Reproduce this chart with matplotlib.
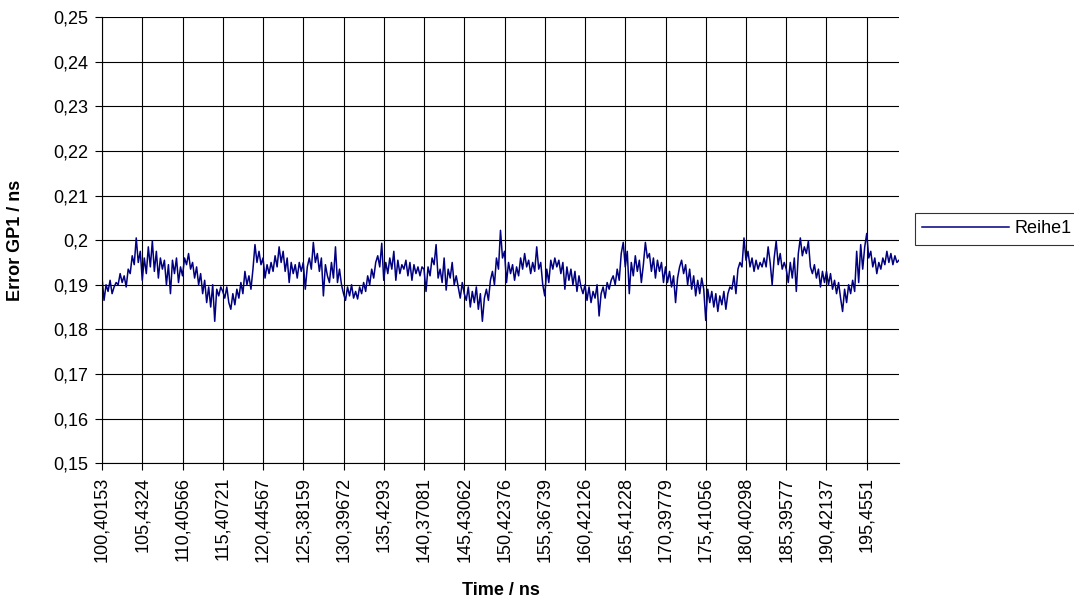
import numpy as np
import matplotlib
matplotlib.use("Agg")
import matplotlib.pyplot as plt

# Werte (Error GP1 in ns), 20 Punkte pro Beschriftung
error_gp1 = [
    0.1915, 0.1865, 0.1900, 0.1885, 0.1910, 0.1880, 0.1895, 0.1905, 0.1900, 0.1925,
    0.1905, 0.1920, 0.1895, 0.1935, 0.1925, 0.1965, 0.1945, 0.2005, 0.1950, 0.1975,
    0.1910, 0.1960, 0.1925, 0.1985, 0.1940, 0.1998, 0.1930, 0.1975, 0.1915, 0.1960,
    0.1935, 0.1955, 0.1900, 0.1945, 0.1880, 0.1955, 0.1925, 0.1960, 0.1905, 0.1940,
    0.1920, 0.1960, 0.1945, 0.1970, 0.1935, 0.1950, 0.1915, 0.1940, 0.1900, 0.1925,
    0.1880, 0.1910, 0.1860, 0.1895, 0.1850, 0.1900, 0.1818, 0.1890, 0.1875, 0.1895,
    0.1885, 0.1870, 0.1895, 0.1860, 0.1845, 0.1880, 0.1855, 0.1890, 0.1870, 0.1905,
    0.1880, 0.1930, 0.1900, 0.1920, 0.1890, 0.1935, 0.1990, 0.1950, 0.1975, 0.1945,
    0.1960, 0.1915, 0.1945, 0.1925, 0.1950, 0.1930, 0.1965, 0.1940, 0.1985, 0.1950,
    0.1975, 0.1930, 0.1960, 0.1905, 0.1950, 0.1925, 0.1945, 0.1915, 0.1950, 0.1930,
    0.1950, 0.1890, 0.1940, 0.1960, 0.1935, 0.1995, 0.1950, 0.1970, 0.1930, 0.1960,
    0.1875, 0.1945, 0.1920, 0.1905, 0.1950, 0.1915, 0.1985, 0.1905, 0.1935, 0.1900,
    0.1880, 0.1865, 0.1895, 0.1875, 0.1900, 0.1870, 0.1885, 0.1868, 0.1895, 0.1880,
    0.1905, 0.1885, 0.1920, 0.1900, 0.1935, 0.1915, 0.1950, 0.1965, 0.1940, 0.1993,
    0.1910, 0.1950, 0.1925, 0.1960, 0.1935, 0.1975, 0.1910, 0.1955, 0.1925, 0.1945,
    0.1935, 0.1955, 0.1920, 0.1950, 0.1910, 0.1945, 0.1925, 0.1940, 0.1920, 0.1940,
    0.1935, 0.1885, 0.1940, 0.1920, 0.1960, 0.1945, 0.1990, 0.1915, 0.1935, 0.1905,
    0.1960, 0.1888, 0.1935, 0.1915, 0.1950, 0.1900, 0.1920, 0.1895, 0.1870, 0.1905,
    0.1880, 0.1865, 0.1895, 0.1850, 0.1885, 0.1860, 0.1895, 0.1845, 0.1880, 0.1818,
    0.1870, 0.1890, 0.1865, 0.1910, 0.1930, 0.1900, 0.1960, 0.1935, 0.2022, 0.1960,
    0.1975, 0.1905, 0.1950, 0.1925, 0.1945, 0.1910, 0.1940, 0.1920, 0.1960, 0.1935,
    0.1970, 0.1940, 0.1955, 0.1925, 0.1950, 0.1930, 0.1985, 0.1935, 0.1950, 0.1900,
    0.1875, 0.1935, 0.1905, 0.1955, 0.1935, 0.1960, 0.1940, 0.1955, 0.1925, 0.1950,
    0.1890, 0.1940, 0.1910, 0.1935, 0.1900, 0.1930, 0.1885, 0.1920, 0.1895, 0.1880,
    0.1900, 0.1865, 0.1895, 0.1860, 0.1885, 0.1870, 0.1900, 0.1830, 0.1880, 0.1895,
    0.1870, 0.1905, 0.1890, 0.1910, 0.1920, 0.1900, 0.1935, 0.1910, 0.1970, 0.1995,
    0.1940, 0.1975, 0.1880, 0.1950, 0.1920, 0.1965, 0.1930, 0.1955, 0.1905, 0.1945,
    0.1995, 0.1960, 0.1970, 0.1930, 0.1960, 0.1915, 0.1955, 0.1930, 0.1950, 0.1905,
    0.1940, 0.1905, 0.1930, 0.1895, 0.1920, 0.1860, 0.1915, 0.1940, 0.1955, 0.1925,
    0.1945, 0.1900, 0.1935, 0.1890, 0.1920, 0.1875, 0.1910, 0.1880, 0.1915, 0.1890,
    0.1820, 0.1890, 0.1860, 0.1885, 0.1850, 0.1880, 0.1840, 0.1875, 0.1855, 0.1885,
    0.1845, 0.1880, 0.1895, 0.1890, 0.1920, 0.1880, 0.1935, 0.1950, 0.1940, 0.2005,
    0.1955, 0.1975, 0.1940, 0.1960, 0.1930, 0.1955, 0.1935, 0.1950, 0.1940, 0.1960,
    0.1940, 0.1985, 0.1950, 0.1900, 0.1960, 0.1998, 0.1945, 0.1970, 0.1935, 0.1950,
    0.1935, 0.1905, 0.1950, 0.1915, 0.1960, 0.1885, 0.1970, 0.2005, 0.1965, 0.1985,
    0.1970, 0.1998, 0.1940, 0.1925, 0.1945, 0.1915, 0.1935, 0.1895, 0.1930, 0.1905,
    0.1930, 0.1900, 0.1925, 0.1890, 0.1910, 0.1880, 0.1905, 0.1870, 0.1840, 0.1890,
    0.1860, 0.1900, 0.1880, 0.1910, 0.1885, 0.1975, 0.1905, 0.1990, 0.1935, 0.1985,
    0.2015, 0.1960, 0.1975, 0.1940, 0.1960, 0.1925, 0.1950, 0.1935, 0.1960, 0.1945,
    0.1975, 0.1950, 0.1970, 0.1945, 0.1965, 0.1950, 0.1955,
]

# Beschriftungen der Zeitachse (jede 20. Kategorie)
time_labels = [
    "100,40153", "105,4324", "110,40566", "115,40721", "120,44567",
    "125,38159", "130,39672", "135,4293", "140,37081", "145,43062",
    "150,42376", "155,36739", "160,42126", "165,41228", "170,39779",
    "175,41056", "180,40298", "185,39577", "190,42137", "195,4551",
]
label_step = 20

y_ticks = [0.15, 0.16, 0.17, 0.18, 0.19, 0.20, 0.21, 0.22, 0.23, 0.24, 0.25]
y_tick_labels = ["0,15", "0,16", "0,17", "0,18", "0,19", "0,2",
                 "0,21", "0,22", "0,23", "0,24", "0,25"]

plt.rcParams['font.family'] = ['Liberation Sans', 'DejaVu Sans']
fs = 13

fig = plt.figure(figsize=(10.74, 6.15), dpi=100)
ax = fig.add_axes([0.095, 0.247, 0.742, 0.725])

x = np.arange(len(error_gp1))
ax.plot(x, error_gp1, color='#000080', linewidth=1.1, label='Reihe1')

ax.set_xlim(0, len(error_gp1) - 1)
ax.set_ylim(0.15, 0.25)

ax.set_xticks(np.arange(len(time_labels)) * label_step)
ax.set_xticklabels(time_labels, rotation=90, fontsize=fs)
ax.set_yticks(y_ticks)
ax.set_yticklabels(y_tick_labels, fontsize=fs)

ax.grid(True, color='black', linewidth=0.8)
ax.set_axisbelow(True)
ax.tick_params(direction='out', length=5, width=0.8, color='black', pad=5)

for side in ['top', 'right']:
    ax.spines[side].set_visible(False)
for side in ['left', 'bottom']:
    ax.spines[side].set_color('black')
    ax.spines[side].set_linewidth(0.8)

ax.set_xlabel('Time / ns', fontsize=fs, fontweight='bold', labelpad=14)
ax.set_ylabel('Error GP1 / ns', fontsize=fs, fontweight='bold')
ax.yaxis.set_label_coords(-0.098, 0.5)

# Legende ragt wie im Original über den rechten Rand hinaus
leg = fig.legend(loc='center left', bbox_to_anchor=(0.852, 0.628),
                 fontsize=fs, frameon=True, fancybox=False,
                 handlelength=4.8, borderaxespad=0, borderpad=0.4,
                 handletextpad=0.3)
leg.get_frame().set_edgecolor('black')
leg.get_frame().set_linewidth(0.8)

fig.savefig('out.png', dpi=100)
